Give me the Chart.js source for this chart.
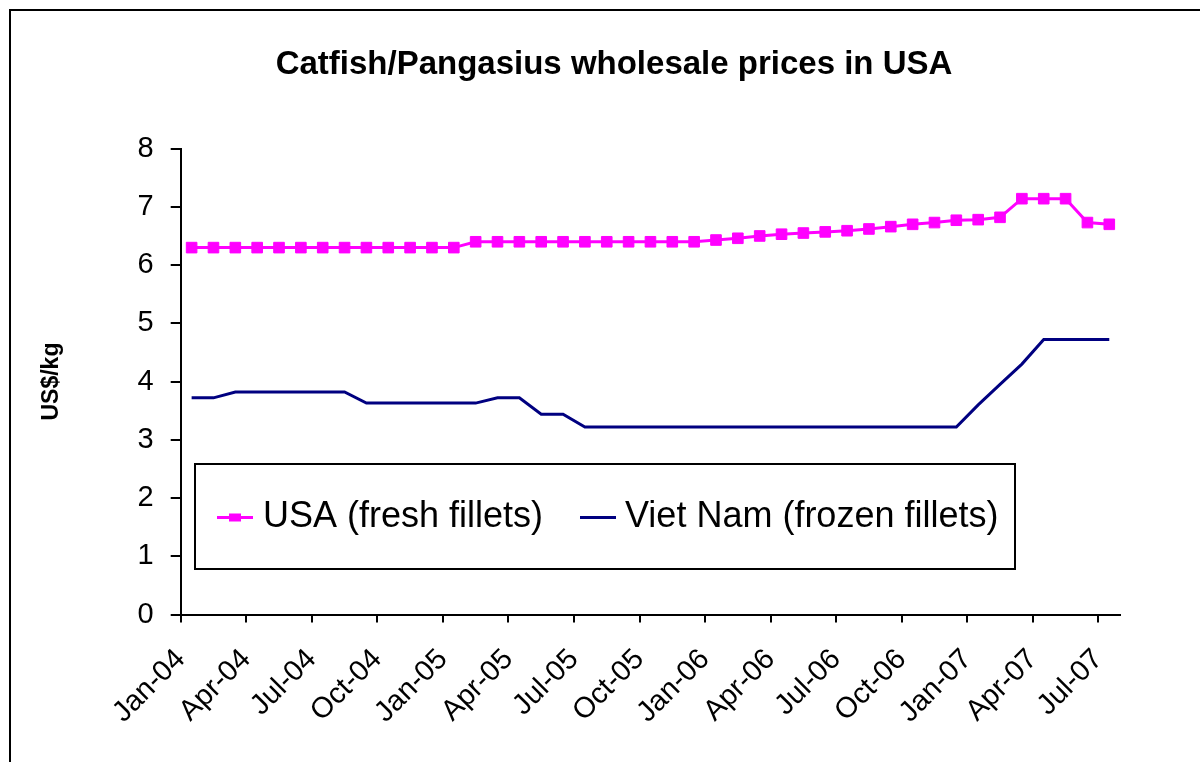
<!DOCTYPE html>
<html>
<head>
<meta charset="utf-8">
<title>Catfish/Pangasius wholesale prices in USA</title>
<script src="https://cdn.jsdelivr.net/npm/chart.js@4.4.1/dist/chart.umd.min.js"></script>
<style>
  html, body { margin: 0; padding: 0; background: #fff; overflow: hidden; }
  #frame { position: absolute; left: 9px; top: 9px; border: 2px solid #000; width: 1206px; height: 770px; }
  canvas { display: block; }
</style>
</head>
<body>
<div id="frame"><canvas id="chart" width="1206" height="770"></canvas></div>
<script>
// monthly categories, Jan-04 .. Jul-07
const months = [
  "Jan-04","Feb-04","Mar-04","Apr-04","May-04","Jun-04","Jul-04","Aug-04","Sep-04","Oct-04","Nov-04","Dec-04",
  "Jan-05","Feb-05","Mar-05","Apr-05","May-05","Jun-05","Jul-05","Aug-05","Sep-05","Oct-05","Nov-05","Dec-05",
  "Jan-06","Feb-06","Mar-06","Apr-06","May-06","Jun-06","Jul-06","Aug-06","Sep-06","Oct-06","Nov-06","Dec-06",
  "Jan-07","Feb-07","Mar-07","Apr-07","May-07","Jun-07","Jul-07"
];

// US$/kg
const usaFresh = [
  6.3, 6.3, 6.3, 6.3, 6.3, 6.3, 6.3, 6.3, 6.3, 6.3, 6.3, 6.3,
  6.3, 6.4, 6.4, 6.4, 6.4, 6.4, 6.4, 6.4, 6.4, 6.4, 6.4, 6.4,
  6.43, 6.46, 6.5, 6.53, 6.55, 6.57, 6.59, 6.62, 6.66, 6.7, 6.73, 6.77,
  6.78, 6.82, 7.14, 7.14, 7.14, 6.73, 6.7
];

const vietFrozen = [
  3.72, 3.72, 3.82, 3.82, 3.82, 3.82, 3.82, 3.82, 3.63, 3.63, 3.63, 3.63,
  3.63, 3.63, 3.72, 3.72, 3.44, 3.44, 3.22, 3.22, 3.22, 3.22, 3.22, 3.22,
  3.22, 3.22, 3.22, 3.22, 3.22, 3.22, 3.22, 3.22, 3.22, 3.22, 3.22, 3.22,
  3.6, 3.95, 4.3, 4.72, 4.72, 4.72, 4.72
];

const seriesNames = ["USA (fresh fillets)", "Viet Nam (frozen fillets)"];

const sans = "'Liberation Sans', Arial, sans-serif";
const tickFont = { family: "'Liberation Sans Narrow', 'Liberation Sans', Arial, sans-serif", size: 29 };

// points sit in the middle of each month slot
function toPoints(values) {
  return values.map((v, i) => ({ x: i + 0.5, y: v }));
}

// legend box drawn inside the plot, like the original
const legendBox = {
  id: "legendBox",
  afterDraw(chart) {
    const ctx = chart.ctx;
    ctx.save();
    ctx.fillStyle = "#fff";
    ctx.fillRect(184, 453, 820, 105);
    ctx.strokeStyle = "#000";
    ctx.lineWidth = 2;
    ctx.strokeRect(184, 453, 820, 105);

    const slots = [{ line: 206, text: 252 }, { line: 569, text: 614 }];
    const y = 506.5;
    chart.data.datasets.forEach((ds, i) => {
      const s = slots[i];
      ctx.strokeStyle = ds.borderColor;
      ctx.lineWidth = 3;
      ctx.beginPath();
      ctx.moveTo(s.line, y);
      ctx.lineTo(s.line + 36, y);
      ctx.stroke();
      if (ds.pointRadius > 0) {
        ctx.fillStyle = ds.backgroundColor;
        ctx.fillRect(s.line + 12, y - 4, 12, 8);
      }
      ctx.fillStyle = "#000";
      ctx.font = "36px " + sans;
      ctx.textBaseline = "middle";
      ctx.textAlign = "left";
      ctx.fillText(ds.label, s.text, y);
    });
    ctx.restore();
  }
};

new Chart(document.getElementById("chart"), {
  type: "line",
  data: {
    datasets: [
      {
        label: seriesNames[0],
        data: toPoints(usaFresh),
        borderColor: "#ff00ff",
        backgroundColor: "#ff00ff",
        borderWidth: 3,
        tension: 0,
        pointStyle: "rect",
        pointRadius: 7.5,
        pointBorderWidth: 1
      },
      {
        label: seriesNames[1],
        data: toPoints(vietFrozen),
        borderColor: "#000080",
        backgroundColor: "#000080",
        borderWidth: 3,
        tension: 0,
        pointRadius: 0
      }
    ]
  },
  options: {
    responsive: false,
    animation: false,
    layout: { padding: 0 },
    plugins: {
      legend: { display: false },
      tooltip: { enabled: false },
      title: {
        display: true,
        text: "Catfish/Pangasius wholesale prices in USA",
        color: "#000",
        font: { family: sans, size: 33, weight: "bold" },
        padding: { top: 34, bottom: 64 }
      }
    },
    scales: {
      x: {
        type: "linear",
        min: 0,
        max: months.length,
        afterFit: s => { s.height = 166.5; },
        grid: { display: true, drawOnChartArea: false, tickLength: 8, lineWidth: 2, color: "#000" },
        border: { color: "#000", width: 2 },
        ticks: {
          stepSize: 3,
          includeBounds: false,
          autoSkip: false,
          maxRotation: 45,
          minRotation: 45,
          padding: 20,
          color: "#000",
          font: tickFont,
          callback: v => months[v] || ""
        }
      },
      y: {
        min: 0,
        max: 8,
        afterFit: s => { s.width = 169.7; },
        grid: { display: true, drawOnChartArea: false, tickLength: 10, lineWidth: 2, color: "#000" },
        border: { color: "#000", width: 2 },
        ticks: { stepSize: 1, padding: 17, color: "#000", font: tickFont },
        title: {
          display: true,
          text: "US$/kg",
          color: "#000",
          font: { family: sans, size: 23, weight: "bold" },
          padding: { top: 27, bottom: 0 }
        }
      },
      // empty strip on the right so the plot stops short of the frame
      gap: {
        position: "right",
        display: true,
        afterFit: s => { s.width = 96.8; },
        grid: { display: false },
        border: { display: false },
        ticks: { display: false }
      }
    }
  },
  plugins: [legendBox]
});
</script>
</body>
</html>
